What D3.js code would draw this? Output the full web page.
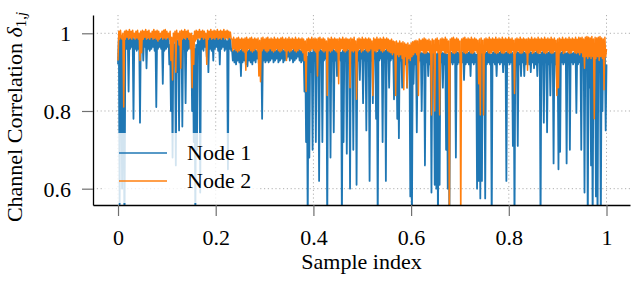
<!DOCTYPE html>
<html><head><meta charset="utf-8">
<script src="https://cdn.jsdelivr.net/npm/d3@7"></script>
<style>
body{margin:0;background:#fff}
svg{display:block}
svg text{font-family:"Liberation Serif","Times New Roman",serif !important}
</style>
</head><body><svg id="c" width="632" height="282"></svg>
<script>
const xTicks=[0,0.2,0.4,0.6,0.8,1];
const xTickLabels=["0","0.2","0.4","0.6","0.8","1"];
const yTicks=[0.6,0.8,1];
const yTickLabels=["0.6","0.8","1"];
const seriesNames=["Node 1","Node 2"];

const node1=[
0.92,0.99,0.56,0.99,0.985,0.60,0.99,0.74,0.50,0.98,0.99,0.96,0.99,0.85,0.985,0.96,0.99,0.965,0.99,0.78,
0.985,0.96,0.99,0.955,0.988,0.96,0.99,0.77,0.985,0.96,0.99,0.93,0.988,0.965,0.99,0.91,0.985,0.96,0.99,0.955,
0.988,0.96,0.99,0.965,0.985,0.955,0.99,0.81,0.988,0.96,0.99,0.965,0.985,0.96,0.99,0.87,0.988,0.955,0.99,0.96,
0.985,0.965,0.99,0.92,0.97,0.80,0.96,0.68,0.985,0.96,0.97,0.66,0.985,0.90,0.98,0.75,0.99,0.96,0.985,0.76,
0.99,0.96,0.985,0.82,0.99,0.955,0.988,0.96,0.99,0.965,0.985,0.80,0.97,0.72,0.96,0.50,0.97,0.70,0.985,0.95,
0.98,0.59,0.99,0.96,0.988,0.955,0.99,0.965,0.985,0.94,0.99,0.90,0.988,0.96,0.99,0.955,0.985,0.93,0.99,0.96,
0.988,0.965,0.99,0.955,0.985,0.92,0.99,0.96,0.988,0.965,0.99,0.955,0.985,0.96,0.98,0.65,0.99,0.96,0.985,0.955,
0.96,0.93,0.955,0.925,0.962,0.92,0.958,0.93,0.96,0.925,0.955,0.89,0.96,0.925,0.962,0.93,0.958,0.92,0.96,0.915,
0.955,0.93,0.96,0.925,0.962,0.92,0.958,0.93,0.96,0.925,0.955,0.935,0.96,0.92,0.958,0.90,0.96,0.78,0.962,0.93,
0.958,0.925,0.96,0.93,0.955,0.925,0.96,0.93,0.962,0.935,0.958,0.925,0.96,0.93,0.955,0.935,0.96,0.925,0.962,0.93,
0.958,0.935,0.96,0.925,0.955,0.93,0.96,0.935,0.962,0.94,0.958,0.93,0.96,0.935,0.955,0.925,0.96,0.93,0.962,0.935,
0.958,0.94,0.96,0.93,0.955,0.925,0.96,0.93,0.955,0.85,0.95,0.72,0.94,0.50,0.95,0.68,0.955,0.90,0.95,0.70,
0.958,0.93,0.955,0.72,0.96,0.935,0.955,0.62,0.958,0.93,0.955,0.72,0.96,0.93,0.958,0.935,0.955,0.50,0.96,0.935,
0.955,0.68,0.958,0.93,0.96,0.745,0.955,0.93,0.958,0.89,0.96,0.935,0.955,0.93,0.95,0.50,0.955,0.72,0.96,0.93,
0.955,0.69,0.958,0.935,0.955,0.60,0.96,0.93,0.955,0.70,0.958,0.935,0.955,0.61,0.96,0.93,0.955,0.88,0.958,0.935,
0.96,0.82,0.955,0.93,0.958,0.75,0.96,0.935,0.955,0.62,0.958,0.93,0.96,0.82,0.955,0.935,0.958,0.78,0.95,0.50,
0.958,0.93,0.96,0.935,0.955,0.72,0.958,0.93,0.955,0.62,0.96,0.935,0.955,0.86,0.958,0.93,0.96,0.935,0.955,0.83,
0.958,0.93,0.955,0.78,0.95,0.73,0.955,0.93,0.95,0.86,0.948,0.925,0.95,0.92,0.945,0.86,0.948,0.925,0.945,0.58,
0.94,0.50,0.95,0.87,0.952,0.92,0.95,0.745,0.948,0.925,0.952,0.93,0.95,0.80,0.948,0.92,0.95,0.66,0.952,0.925,
0.95,0.89,0.948,0.92,0.95,0.59,0.952,0.925,0.95,0.61,0.945,0.60,0.948,0.50,0.95,0.61,0.952,0.925,0.95,0.86,
0.948,0.92,0.95,0.70,0.945,0.60,0.948,0.50,0.952,0.925,0.95,0.92,0.948,0.925,0.95,0.68,0.952,0.92,0.95,0.925,
0.948,0.92,0.95,0.925,0.952,0.88,0.95,0.92,0.948,0.925,0.95,0.92,0.952,0.89,0.95,0.925,0.948,0.92,0.95,0.925,
0.945,0.60,0.948,0.62,0.945,0.575,0.95,0.62,0.952,0.925,0.948,0.575,0.95,0.92,0.952,0.925,0.95,0.92,0.945,0.50,
0.95,0.925,0.952,0.92,0.95,0.89,0.948,0.925,0.95,0.92,0.952,0.925,0.95,0.90,0.948,0.92,0.95,0.62,0.952,0.925,
0.95,0.92,0.948,0.925,0.95,0.71,0.945,0.50,0.95,0.925,0.952,0.71,0.95,0.92,0.948,0.89,0.95,0.925,0.952,0.89,
0.95,0.92,0.948,0.925,0.95,0.92,0.952,0.90,0.95,0.925,0.948,0.91,0.95,0.92,0.952,0.89,0.95,0.925,0.945,0.50,
0.95,0.92,0.952,0.77,0.95,0.925,0.948,0.745,0.95,0.92,0.952,0.84,0.95,0.925,0.948,0.665,0.95,0.92,0.952,0.88,
0.95,0.65,0.948,0.695,0.95,0.925,0.952,0.92,0.95,0.925,0.948,0.665,0.95,0.92,0.952,0.70,0.95,0.925,0.948,0.92,
0.95,0.925,0.952,0.795,0.95,0.92,0.948,0.925,0.95,0.70,0.952,0.92,0.95,0.59,0.948,0.92,0.95,0.50,0.952,0.86,
0.95,0.66,0.94,0.50,0.952,0.93,0.95,0.58,0.94,0.50,0.955,0.90,0.95,0.50,0.955,0.80,0.958,0.93,0.95,0.75,
0.92];

const node2=[
0.93,1.005,0.985,1.008,0.99,0.985,1.0,0.81,1.005,0.985,1.008,0.99,1.005,0.985,1.01,0.988,1.005,0.985,1.008,0.99,
1.0,0.985,1.005,0.988,1.008,0.985,1.0,0.93,1.005,0.95,1.008,0.985,1.005,0.99,1.01,0.985,1.005,0.988,1.008,0.985,
1.0,0.99,1.005,0.985,1.01,0.988,1.005,0.985,1.008,0.98,1.005,0.985,1.0,0.99,1.005,0.985,1.008,0.988,1.01,0.985,
1.005,0.99,1.0,0.985,1.005,0.93,0.99,0.88,1.0,0.98,1.005,0.90,1.008,0.985,1.0,0.97,1.005,0.91,1.008,0.985,
1.005,0.988,1.01,0.985,1.005,0.99,1.008,0.985,1.0,0.96,1.0,0.86,0.995,0.92,1.005,0.98,1.008,0.985,1.005,0.988,
1.01,0.985,1.005,0.99,1.008,0.985,1.005,0.988,1.0,0.92,1.008,0.985,1.005,0.99,1.01,0.985,1.005,0.988,1.008,0.985,
1.005,0.99,1.01,0.985,1.005,0.988,1.008,0.985,1.005,0.99,1.01,0.985,1.005,0.988,1.008,0.985,1.005,0.99,1.003,0.985,
0.985,0.955,0.99,0.96,0.985,0.955,0.988,0.952,0.99,0.955,0.985,0.96,0.988,0.955,0.985,0.952,0.988,0.905,0.99,0.955,
0.985,0.96,0.988,0.955,0.99,0.952,0.985,0.955,0.988,0.96,0.985,0.955,0.988,0.89,0.982,0.875,0.988,0.955,0.99,0.96,
0.985,0.955,0.988,0.952,0.99,0.955,0.985,0.96,0.988,0.955,0.985,0.952,0.99,0.955,0.985,0.96,0.988,0.955,0.985,0.952,
0.988,0.955,0.99,0.96,0.985,0.955,0.988,0.93,0.985,0.955,0.99,0.952,0.985,0.955,0.988,0.96,0.985,0.955,0.99,0.952,
0.985,0.955,0.988,0.96,0.985,0.955,0.988,0.95,0.985,0.93,0.98,0.85,0.985,0.955,0.988,0.952,0.985,0.955,0.99,0.96,
0.985,0.955,0.988,0.952,0.985,0.89,0.988,0.955,0.99,0.96,0.985,0.955,0.988,0.952,0.985,0.955,0.98,0.84,0.988,0.955,
0.985,0.952,0.99,0.955,0.985,0.96,0.988,0.955,0.985,0.952,0.985,0.87,0.988,0.955,0.985,0.96,0.99,0.955,0.985,0.952,
0.988,0.955,0.985,0.96,0.985,0.86,0.988,0.955,0.985,0.952,0.99,0.955,0.98,0.83,0.985,0.955,0.988,0.96,0.985,0.952,
0.99,0.955,0.985,0.96,0.988,0.955,0.985,0.952,0.988,0.955,0.985,0.96,0.98,0.84,0.988,0.955,0.985,0.952,0.99,0.955,
0.985,0.96,0.988,0.955,0.985,0.952,0.99,0.955,0.985,0.96,0.988,0.955,0.985,0.952,0.982,0.95,0.985,0.945,0.98,0.95,
0.978,0.84,0.98,0.945,0.975,0.94,0.98,0.945,0.975,0.935,0.978,0.855,0.975,0.94,0.972,0.86,0.975,0.935,0.97,0.93,
0.975,0.94,0.978,0.945,0.98,0.95,0.982,0.945,0.98,0.84,0.985,0.95,0.982,0.955,0.985,0.95,0.988,0.948,0.985,0.95,
0.982,0.955,0.985,0.95,0.98,0.79,0.985,0.95,0.982,0.80,0.985,0.955,0.988,0.95,0.982,0.79,0.985,0.95,0.988,0.955,
0.985,0.95,0.99,0.948,0.985,0.95,0.98,0.50,0.985,0.955,0.988,0.95,0.99,0.948,0.985,0.95,0.988,0.955,0.985,0.95,
0.98,0.50,0.985,0.955,0.988,0.95,0.99,0.948,0.985,0.95,0.988,0.955,0.985,0.95,0.99,0.948,0.985,0.95,0.988,0.955,
0.985,0.95,0.982,0.87,0.985,0.79,0.988,0.95,0.982,0.79,0.985,0.95,0.988,0.955,0.985,0.95,0.99,0.948,0.985,0.95,
0.988,0.955,0.985,0.95,0.99,0.948,0.985,0.95,0.988,0.955,0.985,0.95,0.99,0.948,0.985,0.95,0.988,0.955,0.985,0.95,
0.99,0.948,0.985,0.95,0.988,0.955,0.982,0.845,0.985,0.95,0.988,0.955,0.985,0.95,0.99,0.948,0.985,0.95,0.988,0.955,
0.985,0.95,0.985,0.905,0.988,0.95,0.985,0.955,0.99,0.948,0.985,0.95,0.988,0.955,0.985,0.95,0.99,0.948,0.985,0.95,
0.988,0.955,0.985,0.95,0.99,0.948,0.985,0.95,0.988,0.955,0.985,0.95,0.99,0.948,0.985,0.95,0.988,0.955,0.982,0.84,
0.985,0.86,0.988,0.95,0.985,0.955,0.99,0.948,0.985,0.95,0.988,0.955,0.985,0.95,0.99,0.948,0.985,0.95,0.988,0.955,
0.985,0.95,0.99,0.948,0.985,0.95,0.99,0.945,0.988,0.95,0.99,0.94,0.985,0.91,0.99,0.94,0.992,0.935,0.99,0.94,
0.988,0.935,0.992,0.94,0.985,0.78,0.99,0.935,0.988,0.94,0.99,0.93,0.992,0.94,0.988,0.935,0.985,0.855,0.99,0.94,
0.96];

const colors=["#1f77b4","#ff7f0e"];
const widths=[1.8,1.5];
const svg=d3.select("#c");
const L=93,R=630,T=15,B=205;
const x=d3.scaleLinear().domain([-0.0512,1.0481]).range([L,R]);
const y=d3.scaleLinear().domain([0.558,1.0471]).range([B,T]);
const FF='"Liberation Serif","Times New Roman",serif';

// grid
const grid=svg.append("g").attr("stroke","#b0b0b0").attr("stroke-width",1).attr("stroke-dasharray","1.2,2.6");
grid.selectAll("line.vx").data(xTicks).join("line")
  .attr("x1",d=>x(d)).attr("x2",d=>x(d)).attr("y1",T).attr("y2",B);
grid.selectAll("line.hy").data(yTicks).join("line")
  .attr("y1",d=>y(d)).attr("y2",d=>y(d)).attr("x1",L).attr("x2",R);

// data
svg.append("clipPath").attr("id","clip").append("rect")
  .attr("x",L).attr("y",T).attr("width",R-L).attr("height",B-T);
const series=[node1,node2];
const line=(arr)=>d3.line().x((d,i)=>x(i/(arr.length-1))).y(d=>y(d))(arr);
const gData=svg.append("g").attr("clip-path","url(#clip)");
series.forEach((s,k)=>{
  gData.append("path").attr("d",line(s)).attr("fill","none")
    .attr("stroke",colors[k]).attr("stroke-width",widths[k]).attr("stroke-linejoin","round");
});

// axes
const fs=22;
const xAxis=d3.axisBottom(x).tickValues(xTicks).tickFormat((d,i)=>xTickLabels[i]).tickSize(11).tickSizeOuter(0).tickPadding(13);
const gx=svg.append("g").attr("transform",`translate(0,${B})`).call(xAxis);
const yAxis=d3.axisLeft(y).tickValues(yTicks).tickFormat((d,i)=>yTickLabels[i]).tickSize(11).tickSizeOuter(0).tickPadding(11);
const gy=svg.append("g").attr("transform",`translate(${L},0)`).call(yAxis);
[gx,gy].forEach(g=>{
  g.attr("font-family",FF).attr("font-size",fs);
  g.select(".domain").attr("stroke","#000").attr("stroke-width",1.3);
  g.selectAll(".tick line").attr("stroke","#707070").attr("stroke-width",1.2);
  g.selectAll(".tick text").attr("fill","#000").attr("font-family",FF).attr("font-size",fs);
});
gy.selectAll(".tick text").attr("dy","0.34em");

// axis titles
svg.append("text").attr("x",(L+R)/2).attr("y",269).attr("text-anchor","middle")
  .attr("font-family",FF).attr("font-size",fs).text("Sample index");
const yl=svg.append("text").attr("transform","translate(22,117) rotate(-90)").attr("text-anchor","middle")
  .attr("font-family",FF).attr("font-size",fs);
yl.append("tspan").text("Channel Correlation ");
yl.append("tspan").attr("font-style","italic").text("δ");
yl.append("tspan").attr("font-size","15px").attr("dy","4").text("1,");
yl.append("tspan").attr("font-size","15px").attr("font-style","italic").text("j");

// legend
const lg=svg.append("g");
lg.append("rect").attr("x",103).attr("y",133).attr("width",157).attr("height",70)
  .attr("fill","#fff").attr("fill-opacity",0.8);
seriesNames.forEach((n,k)=>{
  const yy=153+k*28;
  lg.append("line").attr("x1",119).attr("x2",167).attr("y1",yy).attr("y2",yy)
    .attr("stroke",colors[k]).attr("stroke-width",1.6);
  lg.append("text").attr("x",187).attr("y",yy+6.5).attr("font-family",FF).attr("font-size",fs).text(n);
});
</script>
</body></html>
